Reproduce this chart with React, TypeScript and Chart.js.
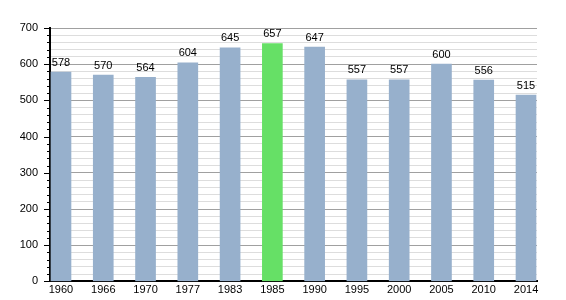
import React, { useEffect, useRef } from "react";
import { Chart, registerables } from "chart.js";

Chart.register(...registerables);

const years = ["1960", "1966", "1970", "1977", "1983", "1985", "1990", "1995", "2000", "2005", "2010", "2014"];
const population = [578, 570, 564, 604, 645, 657, 647, 557, 557, 600, 556, 515];
const highlightYear = "1985";
const yTicks = [0, 100, 200, 300, 400, 500, 600, 700];

const BAR_COLOR = "#97b0cc";
const HIGHLIGHT_COLOR = "#66e066";
const FONT = "'Liberation Sans', Arial, sans-serif";

export default function App() {
  const ref = useRef<HTMLCanvasElement | null>(null);

  useEffect(() => {
    document.body.style.margin = "0";
    const canvas = ref.current;
    if (!canvas) return;

    const valueLabels = {
      id: "valueLabels",
      afterDatasetsDraw(chart: any) {
        const ctx = chart.ctx;
        const meta = chart.getDatasetMeta(0);
        ctx.save();
        ctx.fillStyle = "#000";
        ctx.font = `11px ${FONT}`;
        ctx.textAlign = "center";
        ctx.textBaseline = "bottom";
        meta.data.forEach((el: any, i: number) => {
          ctx.fillText(String(population[i]), el.x, el.y - 4);
        });
        ctx.restore();
      },
    };

    const minorTicks = {
      id: "minorTicks",
      afterDraw(chart: any) {
        const ctx = chart.ctx;
        const y = chart.scales.y;
        const left = chart.chartArea.left;
        ctx.save();
        ctx.strokeStyle = "#000";
        ctx.lineWidth = 1;
        for (let v = 0; v <= 700; v += 20) {
          const py = Math.round(y.getPixelForValue(v)) + 0.5;
          const len = v % 100 === 0 ? 6 : 3;
          ctx.beginPath();
          ctx.moveTo(left - len, py);
          ctx.lineTo(left, py);
          ctx.stroke();
        }
        ctx.restore();
      },
    };

    const chart = new Chart(canvas, {
      type: "bar",
      data: {
        datasets: [
          {
            data: population.map((v, i) => ({ x: i, y: v })),
            backgroundColor: years.map((yr) => (yr === highlightYear ? HIGHLIGHT_COLOR : BAR_COLOR)),
            barThickness: 20,
            borderWidth: 0,
          },
        ],
      },
      options: {
        animation: false,
        responsive: false,
        maintainAspectRatio: false,
        layout: { padding: { top: 28, right: 29, left: 0, bottom: 0 } },
        plugins: { legend: { display: false }, tooltip: { enabled: false } },
        scales: {
          x: {
            type: "linear",
            offset: false,
            min: -0.26,
            max: 11.26,
            afterFit(scale: any) {
              scale.height = 18;
            },
            afterBuildTicks(scale: any) {
              scale.ticks = years.map((_, i) => ({ value: i }));
            },
            ticks: {
              autoSkip: false,
              maxRotation: 0,
              padding: 2,
              color: "#000",
              font: { family: FONT, size: 11 },
              callback: (v: any) => years[v] ?? "",
            },
            grid: { display: false, drawTicks: false },
            border: { color: "#000", width: 2 },
          },
          y: {
            min: 0,
            max: 700,
            afterFit(scale: any) {
              scale.width = 50;
            },
            afterBuildTicks(scale: any) {
              const t: any[] = [];
              for (let v = 0; v <= 700; v += 20) t.push({ value: v });
              scale.ticks = t;
            },
            ticks: {
              autoSkip: false,
              padding: 12,
              color: "#000",
              font: { family: FONT, size: 11 },
              callback: (v: any) => (yTicks.includes(v) ? String(v) : ""),
            },
            grid: {
              drawTicks: false,
              color: (c: any) => (c.tick && c.tick.value % 100 === 0 ? "#a0a0a0" : "#dddddd"),
            },
            border: { color: "#000", width: 2 },
          },
        },
      },
      plugins: [valueLabels, minorTicks],
    });

    return () => chart.destroy();
  }, []);

  return (
    <div style={{ width: 566, height: 300 }}>
      <canvas ref={ref} width={566} height={300} style={{ width: 566, height: 300, display: "block" }} />
    </div>
  );
}
